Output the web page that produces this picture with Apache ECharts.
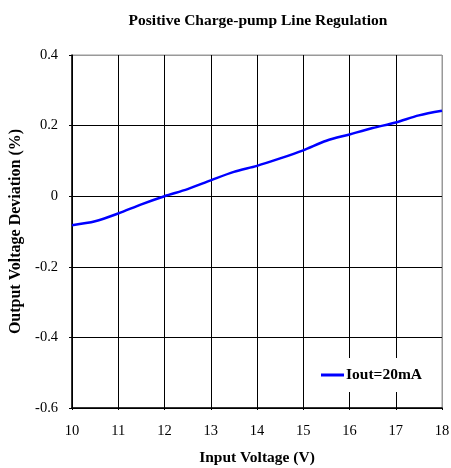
<!DOCTYPE html>
<html>
<head>
<meta charset="utf-8">
<script src="https://cdn.jsdelivr.net/npm/echarts@6/dist/echarts.min.js"></script>
<style>
  html, body { margin: 0; padding: 0; background: #fff; }
  #chart { width: 451px; height: 468px; }
</style>
</head>
<body>
<div id="chart"></div>
<script>
// Input voltage (V) and output voltage deviation (%) at Iout = 20 mA
const inputVoltage = [10, 10.5, 11, 11.5, 12, 12.5, 13, 13.5, 14, 14.5, 15, 15.5, 16, 16.5, 17, 17.5, 18];
const deviation = [-0.082, -0.071, -0.049, -0.023, 0.0, 0.020, 0.045, 0.069, 0.086, 0.107, 0.130, 0.157, 0.175, 0.193, 0.209, 0.229, 0.242];
const seriesName = 'Iout=20mA';
const xTicks = [10, 11, 12, 13, 14, 15, 16, 17, 18];
const yTicks = [-0.6, -0.4, -0.2, 0, 0.2, 0.4];

const font = '"Liberation Serif", "Times New Roman", serif';

const chart = echarts.init(document.getElementById('chart'), null, { renderer: 'canvas' });

chart.setOption({
  backgroundColor: '#fff',
  animation: false,
  title: {
    text: 'Positive Charge-pump Line Regulation',
    left: 253,
    textAlign: 'center',
    top: 8,
    textStyle: { fontFamily: font, fontSize: 15.5, fontWeight: 'bold', color: '#000' }
  },
  grid: {
    left: 72, right: 9, top: 55, bottom: 60,
    outerBoundsMode: 'none',
    containLabel: false,
    show: true, borderColor: '#999', borderWidth: 1
  },
  legend: {
    data: [{ name: seriesName, icon: 'rect' }],
    left: 314, top: 358,
    itemWidth: 23, itemHeight: 3, itemGap: 4,
    backgroundColor: '#fff',
    padding: [9, 16, 9, 7],
    textStyle: { fontFamily: font, fontSize: 15.5, fontWeight: 'bold', color: '#000', padding: [0, 0, 0, -3] }
  },
  xAxis: {
    type: 'value',
    min: xTicks[0], max: xTicks[xTicks.length - 1], interval: 1,
    name: 'Input Voltage (V)',
    nameLocation: 'middle', nameGap: 42,
    nameTextStyle: { fontFamily: font, fontSize: 15.5, fontWeight: 'bold', color: '#000' },
    axisLine: { onZero: false, lineStyle: { color: '#000', width: 1.5 } },
    axisTick: { show: true, length: 2, lineStyle: { color: '#000' } },
    axisLabel: { fontFamily: font, fontSize: 14.5, color: '#000', margin: 16 },
    splitLine: {
      show: true,
      lineStyle: { color: ['#000', '#000', '#000', '#000', '#000', '#000', '#000', '#000', '#999'], width: 1 }
    }
  },
  yAxis: {
    type: 'value',
    min: yTicks[0], max: yTicks[yTicks.length - 1], interval: 0.2,
    name: 'Output Voltage Deviation (%)',
    nameLocation: 'middle', nameGap: 48,
    nameTextStyle: { fontFamily: font, fontSize: 16, fontWeight: 'bold', color: '#000' },
    axisLine: { onZero: false, lineStyle: { color: '#000', width: 1.5 } },
    axisTick: { show: true, length: 3, lineStyle: { color: '#000' } },
    axisLabel: {
      fontFamily: font, fontSize: 14.5, color: '#000', margin: 14,
      formatter: v => (Math.round(v * 10) / 10).toString()
    },
    splitLine: {
      show: true,
      lineStyle: { color: ['#000', '#000', '#000', '#000', '#000', '#999'], width: 1 }
    }
  },
  series: [{
    name: seriesName,
    type: 'line',
    data: inputVoltage.map((v, i) => [v, deviation[i]]),
    smooth: 0.3,
    showSymbol: false,
    symbol: 'none',
    lineStyle: { color: '#0000ff', width: 2.5 },
    itemStyle: { color: '#0000ff' }
  }]
});
</script>
</body>
</html>
